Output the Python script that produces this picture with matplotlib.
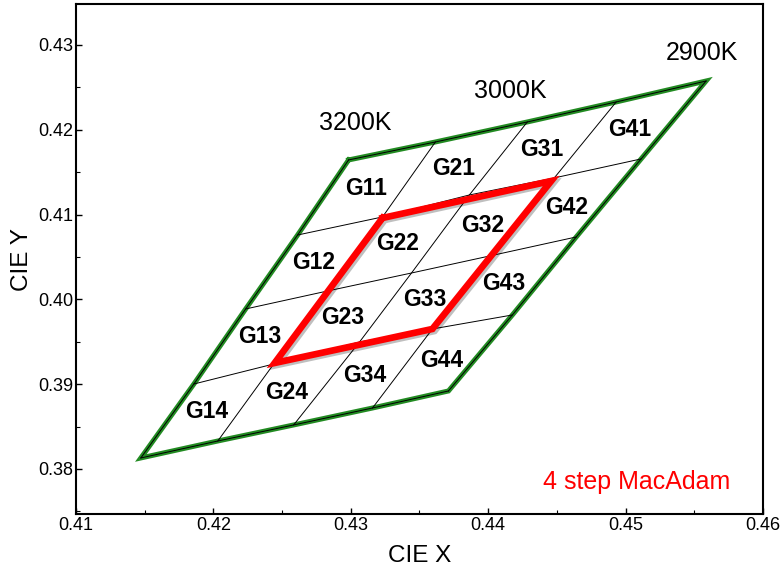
import numpy as np
import matplotlib
matplotlib.use("Agg")
import matplotlib.pyplot as plt
import matplotlib.patheffects as pe
from matplotlib.ticker import MultipleLocator, FormatStrFormatter

plt.rcParams["font.family"] = ["Liberation Sans", "DejaVu Sans"]

# grid nodes of the ANSI bins, one list per column (3200K side -> 2900K side),
# each going top row -> bottom row
node_x = [
    [0.42984, 0.42613, 0.42235, 0.41858, 0.41472],
    [0.43616, 0.43231, 0.42831, 0.42439, 0.42032],
    [0.44285, 0.43863, 0.43442, 0.43064, 0.42584],
    [0.44932, 0.44481, 0.44045, 0.43594, 0.43158],
    [0.45586, 0.45113, 0.44641, 0.44176, 0.43711],
]
node_y = [
    [0.41644, 0.40759, 0.39887, 0.39002, 0.38130],
    [0.41856, 0.40972, 0.40099, 0.39238, 0.38330],
    [0.42092, 0.41231, 0.40311, 0.39498, 0.38519],
    [0.42328, 0.41432, 0.40524, 0.39651, 0.38719],
    [0.42575, 0.41656, 0.40736, 0.39816, 0.38920],
]

# 4 step MacAdam quadrilateral
red_x = [0.43231, 0.44459, 0.43594, 0.42446]
red_y = [0.40960, 0.41396, 0.39651, 0.39250]

cct_labels = ["3200K", "3000K", "2900K"]
cct_x = [0.43035, 0.44161, 0.45557]
cct_y = [0.42080, 0.42458, 0.42906]

nx = np.array(node_x)
ny = np.array(node_y)

fig = plt.figure(figsize=(7.81, 5.71), dpi=100)
ax = fig.add_axes([0.0973, 0.0998, 0.8796, 0.8932])

green = "#228b22"
# outer boundary
bx = np.concatenate([nx[0], nx[1:, -1], nx[-1, ::-1][1:], nx[::-1, 0][1:]])
by = np.concatenate([ny[0], ny[1:, -1], ny[-1, ::-1][1:], ny[::-1, 0][1:]])
ax.plot(bx, by, color=green, lw=3.6, solid_joinstyle="miter", zorder=2)

# inner grid lines (black, thin), including over the boundary
for i in range(5):
    ax.plot(nx[i], ny[i], color="black", lw=0.7, zorder=3)
for j in range(5):
    ax.plot(nx[:, j], ny[:, j], color="black", lw=0.7, zorder=3)

# bin labels at cell centres
for i in range(4):
    for j in range(4):
        cx = (nx[i, j] + nx[i + 1, j] + nx[i + 1, j + 1] + nx[i, j + 1]) / 4
        cy = (ny[i, j] + ny[i + 1, j] + ny[i + 1, j + 1] + ny[i, j + 1]) / 4
        ax.text(cx, cy, f"G{i + 1}{j + 1}", ha="center", va="center",
                fontsize=16.5, fontweight="bold", zorder=5)

ax.plot(red_x + red_x[:1], red_y + red_y[:1], color="#ff0000", lw=4.8,
        solid_joinstyle="miter", zorder=4,
        path_effects=[pe.SimpleLineShadow(offset=(1.5, -1.5), alpha=0.25),
                      pe.Normal()])

for lab, x, y in zip(cct_labels, cct_x, cct_y):
    ax.text(x, y, lab, ha="center", va="center", fontsize=18)

ax.text(0.45077, 0.37847, "4 step MacAdam", color="#ff0000", ha="center",
        va="center", fontsize=18)

ax.set_xlim(0.41, 0.46)
ax.set_ylim(0.37469, 0.43483)
ax.xaxis.set_major_locator(MultipleLocator(0.01))
ax.xaxis.set_minor_locator(MultipleLocator(0.005))
ax.yaxis.set_major_locator(MultipleLocator(0.01))
ax.yaxis.set_minor_locator(MultipleLocator(0.005))
ax.xaxis.set_major_formatter(FormatStrFormatter("%.2f"))
ax.yaxis.set_major_formatter(FormatStrFormatter("%.2f"))
ax.tick_params(which="both", direction="in", top=False, right=False,
               labelsize=13, pad=2)
ax.tick_params(which="major", length=4, width=1)
ax.tick_params(which="minor", length=3, width=0.8)
for s in ax.spines.values():
    s.set_linewidth(1.5)

ax.set_xlabel("CIE X", fontsize=17.5, labelpad=8)
ax.set_ylabel("CIE Y", fontsize=17.5, labelpad=4)

fig.savefig("out.png", dpi=100)
